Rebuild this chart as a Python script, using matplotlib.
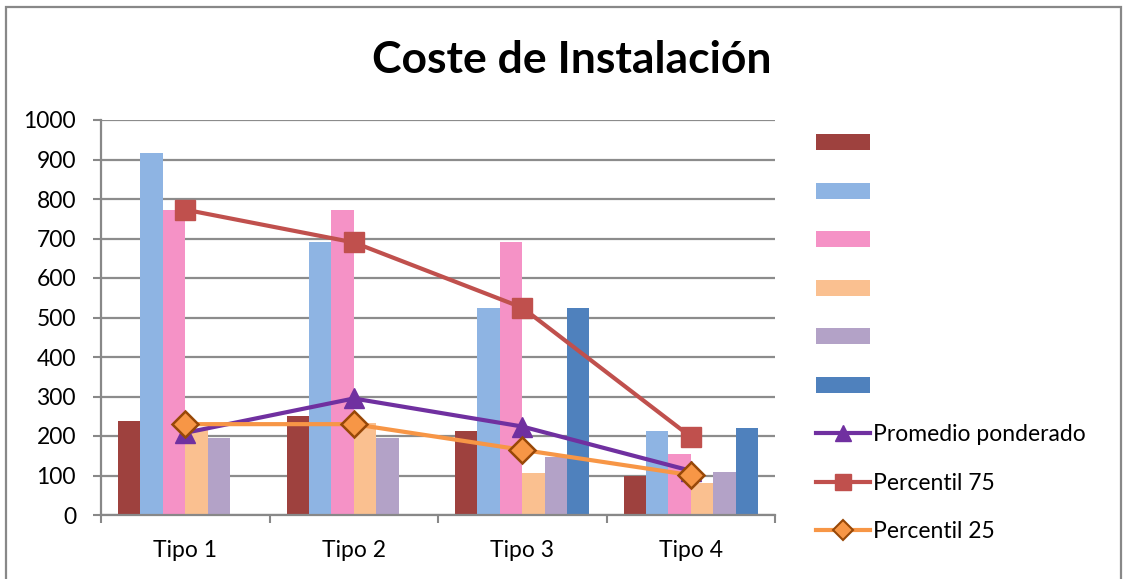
#!/usr/bin/env python3

from matplotlib import pyplot as plt
from matplotlib.lines import Line2D
from matplotlib.patches import Patch, Rectangle
import numpy as np

categories = ["Tipo 1", "Tipo 2", "Tipo 3", "Tipo 4"]

# six unnamed bar series (legend shows no text for them)
bar_series = [
    [238, 251, 213, 100],
    [917, 692, 525, 213],
    [772, 772, 691, 154],
    [215, 233, 106, 81],
    [196, 196, 148, 110],
    [0, 0, 525, 221],
]
bar_colors = ["#9E413E", "#8EB4E3", "#F592C6", "#FAC090", "#B3A2C7", "#4F81BD"]

promedio = [208, 295, 224, 112]
percentil_75 = [773, 690, 525, 198]
percentil_25 = [230, 230, 165, 101]

y_ticks = list(range(0, 1001, 100))


def main():
    plt.rcParams["font.family"] = ["Lato", "DejaVu Sans"]
    fig = plt.figure(figsize=(11.29, 5.79), dpi=100)
    ax = fig.add_axes([101 / 1129, 1 - 515 / 579, 674 / 1129, 395 / 579])

    xs = np.arange(len(categories))
    width = 0.133
    handles = []
    for i, (vals, color) in enumerate(zip(bar_series, bar_colors)):
        ax.bar(xs + (i - 2.5) * width, vals, width, color=color, zorder=2)
        handles.append(Patch(facecolor=color))

    lw = 3
    ax.plot(xs, promedio, color="#7030A0", lw=lw, marker="^", ms=15,
            zorder=4)
    ax.plot(xs, percentil_75, color="#C0504D", lw=lw, marker="s", ms=14,
            zorder=4)
    ax.plot(xs, percentil_25, color="#F79646", lw=lw, marker="D", ms=13,
            markeredgecolor="#984807", markeredgewidth=1.8, zorder=5)

    handles += [
        Line2D([], [], color="#7030A0", lw=lw, marker="^", ms=11),
        Line2D([], [], color="#C0504D", lw=lw, marker="s", ms=12),
        Line2D([], [], color="#F79646", lw=lw, marker="D", ms=10,
               markeredgecolor="#984807", markeredgewidth=1.5),
    ]
    labels = [""] * 6 + ["Promedio ponderado", "Percentil 75", "Percentil 25"]

    ax.set_xlim(-0.5, 3.5)
    ax.set_ylim(0, 1000)
    ax.set_yticks(y_ticks)
    ax.set_xticks(xs)
    ax.set_xticklabels(categories)
    ax.set_xticks(np.arange(-0.5, 4, 1), minor=True)
    ax.tick_params(axis="x", which="major", length=0, pad=18, labelsize=16.5)
    ax.tick_params(axis="x", which="minor", length=6, width=1.5,
                   color="#888888")
    ax.tick_params(axis="y", length=6, width=1.5, color="#888888",
                   labelsize=16.5, pad=12)
    ax.grid(axis="y", color="#8C8C8C", lw=1.6, zorder=1)
    ax.set_axisbelow(True)
    for side in ["top", "right"]:
        ax.spines[side].set_visible(False)
    for side in ["left", "bottom"]:
        ax.spines[side].set_color("#888888")
        ax.spines[side].set_linewidth(1.6)
        ax.spines[side].set_zorder(3)

    fig.text(572 / 1129, 1 - 60 / 579, "Coste de Instalación", ha="center",
             va="center", fontsize=32, fontweight="bold")

    fig.legend(handles, labels, loc="upper left",
               bbox_to_anchor=(805 / 1129, 1 - 122 / 579), frameon=False,
               fontsize=16.5, handlelength=2.35, handleheight=0.7,
               labelspacing=1.2, handletextpad=0.1, borderpad=0)

    fig.patches.append(Rectangle((6 / 1129, -0.1), 1115 / 1129, 1.1 - 7 / 579,
                                 transform=fig.transFigure, fill=False,
                                 edgecolor="#888888", lw=1.6))

    fig.savefig("out.png")


if __name__ == "__main__":
    main()
